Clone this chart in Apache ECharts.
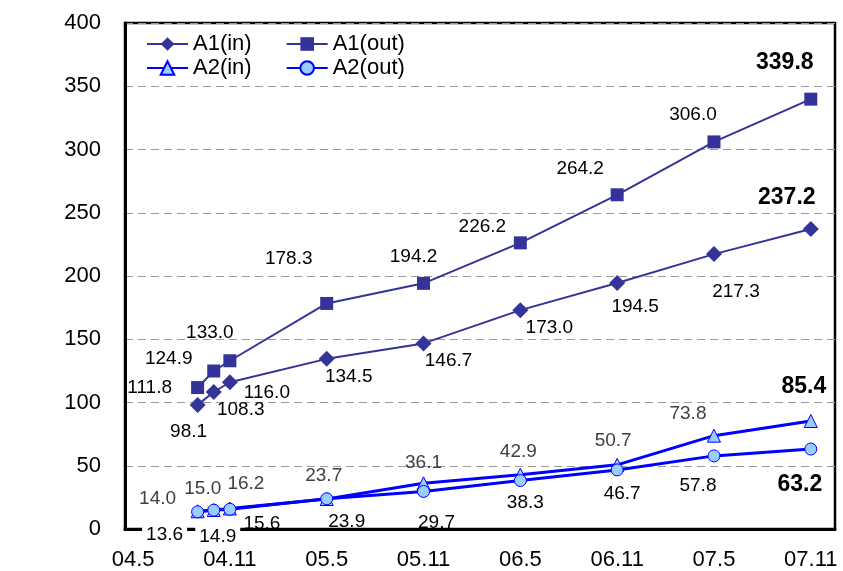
<!DOCTYPE html>
<html>
<head>
<meta charset="utf-8">
<script src="https://cdn.jsdelivr.net/npm/echarts@6/dist/echarts.min.js"></script>
<style>html,body{margin:0;padding:0;background:#fff}#c{width:843px;height:571px}</style>
</head>
<body>
<div id="c"></div>
<script>
// ---- data ----
const periods = ['04.9','04.10','04.11','05.5','05.11','06.5','06.11','07.5','07.11'];
const tickLabels = ['04.5','04.11','05.5','05.11','06.5','06.11','07.5','07.11'];
const a1In  = [98.1, 108.3, 116.0, 134.5, 146.7, 173.0, 194.5, 217.3, 237.2];
const a1Out = [111.8, 124.9, 133.0, 178.3, 194.2, 226.2, 264.2, 306.0, 339.8];
const a2In  = [14.0, 15.0, 16.2, 23.7, 36.1, 42.9, 50.7, 73.8, 85.4];
const a2Out = [13.6, 14.9, 15.6, 23.9, 29.7, 38.3, 46.7, 57.8, 63.2];
const seriesNames = ['A1(in)', 'A1(out)', 'A2(in)', 'A2(out)'];

// ---- layout (label offsets in px relative to point) ----
const offA1In  = [[-9,27],[27,18],[37,11],[22,18],[25,17],[29,18],[18,24],[22,38],[-24,-31]];
const offA1Out = [[-48,0],[-45,-12],[-20,-28],[-38,-45],[-10,-27],[-38,-16],[-37,-26],[-21,-27],[-26,-36]];
const offA2In  = [[-40,-13],[-11,-21],[16,-25],[-3,-23],[0,-21],[-2,-23],[-4,-24],[-26,-22],[-7,-34]];
const offA2Out = [[-33,23],[4,27],[32,14],[20,23],[13,31],[5,22],[5,24],[-16,30],[-11,36]];

const FONT = '"Liberation Sans", Arial, sans-serif';
function monthIndex(s) { const p = s.split('.').map(Number); return (p[0] * 12 + p[1]) - (4 * 12 + 5); }
const xs = periods.map(monthIndex);
const tickVals = tickLabels.map(monthIndex);

function buildData(vals, offs, color, whiteBgIdx) {
  return vals.map((v, i) => {
    const last = i === vals.length - 1;
    const lbl = {
      offset: offs[i],
      color: last ? '#000' : color,
      fontSize: last ? 23 : 19,
      fontWeight: last ? 'bold' : 'normal'
    };
    if (whiteBgIdx && whiteBgIdx.indexOf(i) >= 0) {
      lbl.backgroundColor = '#fff';
      lbl.padding = [1, 4];
    }
    return { value: [xs[i], v], label: lbl };
  });
}

function mk(name, vals, offs, opts) {
  return {
    name: name, type: 'line', data: buildData(vals, offs, opts.labelColor, opts.whiteBg),
    symbol: opts.symbol, symbolSize: opts.size,
    lineStyle: { color: opts.line, width: opts.width },
    itemStyle: { color: opts.fill, borderColor: opts.border, borderWidth: opts.bw },
    label: {
      show: true, position: 'inside', fontFamily: FONT, fontSize: 19,
      formatter: p => p.value[1].toFixed(1)
    },
    emphasis: { disabled: true },
    animation: false
  };
}

const chart = echarts.init(document.getElementById('c'));
const legendBase = {
  left: 146, itemWidth: 41, itemHeight: 17, itemGap: 34, padding: 0,
  textStyle: { fontFamily: FONT, fontSize: 22, color: '#000' }
};
chart.setOption({
  backgroundColor: '#fff',
  textStyle: { fontFamily: FONT },
  grid: { left: 125, right: 8, top: 23, bottom: 42, show: true, borderColor: '#000', borderWidth: 2.5, backgroundColor: 'transparent' },
  legend: [
    Object.assign({}, legendBase, { top: 33, data: [seriesNames[0], seriesNames[1]] }),
    Object.assign({}, legendBase, { top: 57, data: [seriesNames[2], seriesNames[3]] })
  ],
  xAxis: {
    type: 'value', min: -0.5, max: 43.5,
    axisLine: { show: true, onZero: false, lineStyle: { color: '#000', width: 3 } },
    axisTick: { show: false },
    splitLine: { show: false },
    axisLabel: {
      customValues: tickVals, margin: 20, fontSize: 22, color: '#000', fontFamily: FONT,
      formatter: v => { const i = tickVals.indexOf(Math.round(v)); return i >= 0 ? tickLabels[i] : ''; }
    }
  },
  yAxis: {
    type: 'value', min: 0, max: 400, interval: 50,
    axisLine: { show: true, onZero: false, lineStyle: { color: '#000', width: 3 } },
    axisTick: { show: false },
    splitLine: { show: true, lineStyle: { color: '#9a9a9a', width: 1, type: [8, 5] } },
    axisLabel: { margin: 24, fontSize: 22, color: '#000', fontFamily: FONT }
  },
  series: [
    mk(seriesNames[0], a1In, offA1In, { symbol: 'diamond', size: 16, line: '#333399', width: 2, fill: '#333399', border: '#333399', bw: 0, labelColor: '#000' }),
    mk(seriesNames[1], a1Out, offA1Out, { symbol: 'rect', size: 13, line: '#333399', width: 2, fill: '#333399', border: '#333399', bw: 0, labelColor: '#000' }),
    mk(seriesNames[2], a2In, offA2In, { symbol: 'triangle', size: 13, line: '#0000ff', width: 3, fill: '#99ccff', border: '#0000ff', bw: 1, labelColor: '#404040' }),
    mk(seriesNames[3], a2Out, offA2Out, { symbol: 'circle', size: 12, line: '#0000ff', width: 3, fill: '#99ccff', border: '#0000ff', bw: 1, labelColor: '#000', whiteBg: [0, 1] })
  ]
});
</script>
</body>
</html>
